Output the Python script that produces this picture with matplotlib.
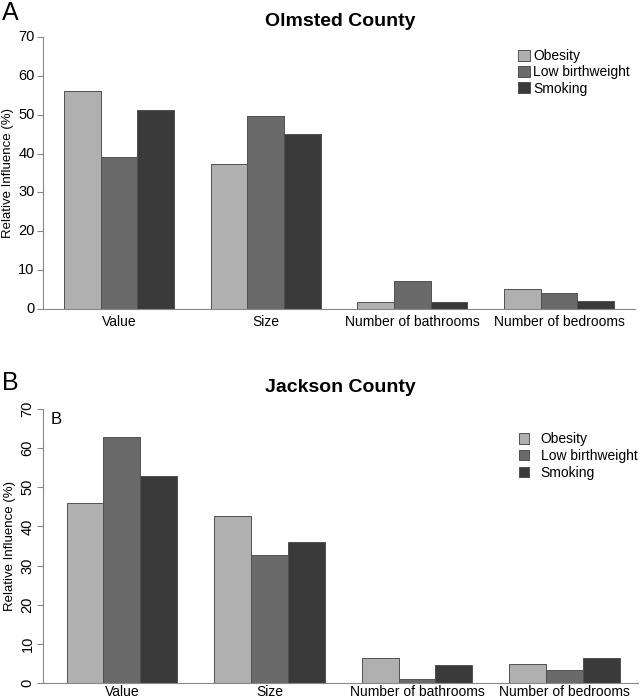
import numpy as np
import matplotlib
matplotlib.use("Agg")
import matplotlib.pyplot as plt

plt.rcParams['font.family'] = ['Liberation Sans', 'DejaVu Sans']

# categories and series
features = ["Value", "Size", "Number of bathrooms", "Number of bedrooms"]
series = ["Obesity", "Low birthweight", "Smoking"]
colors = ["#b0b0b0", "#6a6a6a", "#3a3a3a"]

# Olmsted County (panel A)
olmsted_obesity = [56.0, 37.3, 1.8, 5.1]
olmsted_lowbw = [39.1, 49.6, 7.2, 4.1]
olmsted_smoking = [51.1, 45.0, 1.9, 2.1]

# Jackson County (panel B)
jackson_obesity = [46.0, 42.7, 6.4, 4.9]
jackson_lowbw = [62.9, 32.6, 1.1, 3.4]
jackson_smoking = [53.0, 35.9, 4.7, 6.3]

yticks = [0, 10, 20, 30, 40, 50, 60, 70]

fig = plt.figure(figsize=(6.4, 7.0), dpi=100)


def draw_panel(ax, data, xlim, rotate_ticks, xpad):
    # R style barplot: groups of 3 bars, one bar-width gap between groups
    starts = np.arange(len(features)) * 4 + 1
    for k, vals in enumerate(data):
        ax.bar(starts + k, vals, width=1.0, align='edge', color=colors[k],
               edgecolor='#505050', linewidth=0.7, label=series[k], zorder=2)
    ax.set_xlim(*xlim)
    ax.set_ylim(0, 70)
    ax.set_xticks(starts + 1.5)
    ax.set_xticklabels(features, fontsize=10)
    ax.tick_params(axis='x', length=0, pad=xpad)
    ax.set_yticks(yticks)
    ax.set_yticklabels([str(t) for t in yticks], fontsize=10.5,
                       rotation=90 if rotate_ticks else 0,
                       va='center')
    ax.tick_params(axis='y', length=4, color='#888888', pad=2)
    for s in ['top', 'right']:
        ax.spines[s].set_visible(False)
    ax.spines['left'].set_bounds(0, 70)
    ax.spines['left'].set_color('#888888')
    ax.spines['bottom'].set_color('#888888')
    ax.set_ylabel("Relative Influence (%)", fontsize=9.5, labelpad=3)


# Panel A
axA = fig.add_axes([43 / 640, 1 - 309 / 700, 592 / 640, 272 / 700])
draw_panel(axA, [olmsted_obesity, olmsted_lowbw, olmsted_smoking],
           (0.43, 16.57), False, 4)
axA.legend(loc='upper left', bbox_to_anchor=(0.793, 0.975), frameon=False,
           fontsize=10, handlelength=0.85, handleheight=0.85,
           handletextpad=0.25, labelspacing=0.15, borderaxespad=0)
fig.text(340 / 640, 1 - 22 / 700, "Olmsted County", fontsize=14,
         fontweight='bold', ha='center', va='center')
fig.text(2 / 640, 1 - 13 / 700, "A", fontsize=18, ha='left', va='center')

# Panel B
axB = fig.add_axes([43 / 640, 1 - 683 / 700, 595 / 640, 274 / 700])
draw_panel(axB, [jackson_obesity, jackson_lowbw, jackson_smoking],
           (0.36, 16.49), True, 1.5)
axB.legend(loc='upper left', bbox_to_anchor=(0.79, 0.935), frameon=False,
           fontsize=10, handlelength=0.75, handleheight=0.75,
           handletextpad=0.85, labelspacing=0.2, borderaxespad=0)
axB.text(0.012, 0.96, "B", transform=axB.transAxes, fontsize=12,
         ha='left', va='center')
fig.text(340 / 640, 1 - 387 / 700, "Jackson County", fontsize=14,
         fontweight='bold', ha='center', va='center')
fig.text(2 / 640, 1 - 383 / 700, "B", fontsize=18, ha='left', va='center')

fig.savefig("out.png", dpi=100)
